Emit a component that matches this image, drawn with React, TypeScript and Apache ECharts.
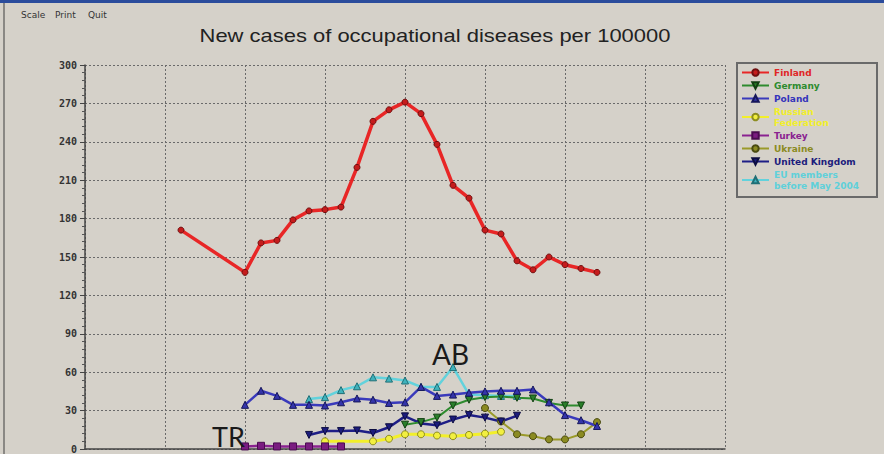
import React, { useEffect, useRef } from "react";
import * as echarts from "echarts";

const finlandYears = [1986, 1990, 1991, 1992, 1993, 1994, 1995, 1996, 1997, 1998, 1999, 2000, 2001, 2002, 2003, 2004, 2005, 2006, 2007, 2008, 2009, 2010, 2011, 2012];
const finlandValues = [171, 138, 161, 163, 179, 186, 187, 189, 220, 256, 265, 271, 262, 238, 206, 196, 171, 168, 147, 140, 150, 144, 141, 138];

const germanyYears = [2000, 2001, 2002, 2003, 2004, 2005, 2006, 2007, 2008, 2009, 2010, 2011];
const germanyValues = [19, 21, 24.5, 34, 38.5, 40.5, 41, 40, 39.5, 36, 34, 34];

const polandYears = [1990, 1991, 1992, 1993, 1994, 1995, 1996, 1997, 1998, 1999, 2000, 2001, 2002, 2003, 2004, 2005, 2006, 2007, 2008, 2009, 2010, 2011, 2012];
const polandValues = [34.5, 45.5, 41.5, 34.5, 34.5, 34, 36.5, 39.5, 38.5, 36, 36.5, 48.5, 41.5, 42.5, 44, 45, 45.5, 45.5, 46.5, 36.5, 26.5, 22.5, 18];

const russiaYears = [1995, 1998, 1999, 2000, 2001, 2002, 2003, 2004, 2005, 2006];
const russiaValues = [6, 6, 8, 11.5, 11.5, 10.5, 10, 11, 12, 13.5];

const turkeyYears = [1990, 1991, 1992, 1993, 1994, 1995, 1996];
const turkeyValues = [2, 2.5, 2, 2, 2, 2, 2];

const ukraineYears = [2005, 2006, 2007, 2008, 2009, 2010, 2011, 2012];
const ukraineValues = [32, 21.5, 11.5, 10, 7.5, 7.5, 11.5, 21];

const ukYears = [1994, 1995, 1996, 1997, 1998, 1999, 2000, 2001, 2002, 2003, 2004, 2005, 2006, 2007];
const ukValues = [11, 14, 14, 14.5, 12.5, 17, 25.5, 20, 18.5, 23, 26.5, 24.5, 21.5, 26];

const euYears = [1994, 1995, 1996, 1997, 1998, 1999, 2000, 2001, 2002, 2003, 2004, 2005, 2006, 2007];
const euValues = [39, 40.5, 46, 49, 56, 55, 53.5, 48.5, 48.5, 64, 42.5, 42, 41.5, 41.5];

const legendNames = ["Finland", "Germany", "Poland", "Russian\nFederation", "Turkey", "Ukraine", "United Kingdom", "EU members\nbefore May 2004"];
const legendColors = ["#e02626", "#2e8b2e", "#3434bb", "#f2ef2a", "#8a2290", "#8b8b22", "#1c1c7c", "#5fd0da"];

const titleText = "New cases of occupational diseases per 100000";
const menuItems = ["Scale", "Print", "Quit"];

const pairs = (xs: number[], ys: number[]) => xs.map((x, i) => [x, ys[i]]);

export default function App() {
  const ref = useRef<HTMLDivElement>(null);
  useEffect(() => {
    document.body.style.margin = "0";
    document.body.style.background = "#d5d1c9";
    const chart = echarts.init(ref.current!, undefined, { renderer: "svg" });

    const mkLine = (
      name: string,
      data: number[][],
      color: string,
      symbol: string,
      fill: string,
      border: string,
      width: number,
      rotate = 0,
      size = 7
    ) => ({
      type: "line",
      name,
      data,
      symbol,
      symbolSize: size,
      symbolRotate: rotate,
      lineStyle: { color, width },
      itemStyle: { color: fill, borderColor: border, borderWidth: 1 },
      emphasis: { disabled: true },
      z: 3,
    });

    const series = [
      mkLine(legendNames[7], pairs(euYears, euValues), "#62d2dc", "triangle", "#3fb2bc", "#1f6f76", 2.5),
      mkLine(legendNames[3], pairs(russiaYears, russiaValues), "#f2ef2a", "circle", "#f2ef40", "#8d8d20", 3),
      mkLine(legendNames[5], pairs(ukraineYears, ukraineValues), "#9a9a2a", "circle", "#8b8b22", "#4a4a10", 2),
      mkLine(legendNames[4], pairs(turkeyYears, turkeyValues), "#8a2290", "rect", "#7a1c80", "#4a0c50", 2.5),
      mkLine(legendNames[6], pairs(ukYears, ukValues), "#1e1e86", "triangle", "#1c1c7c", "#0c0c40", 2.5, 180),
      mkLine(legendNames[1], pairs(germanyYears, germanyValues), "#2e8b2e", "triangle", "#2a7f2a", "#124012", 2, 180),
      mkLine(legendNames[2], pairs(polandYears, polandValues), "#3a3abb", "triangle", "#3434aa", "#16165a", 2.5),
      mkLine(legendNames[0], pairs(finlandYears, finlandValues), "#e82626", "circle", "#c41c1c", "#701010", 3.5, 0, 6),
    ];

    const graphic: any[] = [
      { type: "rect", shape: { x: 0, y: 0, width: 884, height: 3 }, style: { fill: "#2b4c9c" }, z: 10 },
      { type: "rect", shape: { x: 3, y: 3, width: 2, height: 451 }, style: { fill: "#8a8884" }, z: 10 },
      ...menuItems.map((t, i) => ({
        type: "text",
        x: [21, 55, 88][i],
        y: 15,
        style: { text: t, font: '9px "DejaVu Sans"', fill: "#333", verticalAlign: "middle", textVerticalAlign: "middle" },
        z: 10,
      })),
      {
        type: "text",
        x: 435,
        y: 36,
        scaleX: 1.22,
        style: {
          text: titleText,
          font: '18px "Liberation Sans"',
          fill: "#222",
          align: "center",
          textAlign: "center",
          verticalAlign: "middle",
          textVerticalAlign: "middle",
        },
        z: 10,
      },
      { type: "rect", shape: { x: 737, y: 63, width: 140, height: 134 }, style: { fill: "none", stroke: "#6a6a6a", lineWidth: 2 }, z: 10 },
      {
        type: "text",
        x: 432,
        y: 354,
        style: { text: "AB", font: "28px Lato", fill: "#1a1a1a", verticalAlign: "middle", textVerticalAlign: "middle" },
        z: 20,
      },
      {
        type: "text",
        x: 212,
        y: 450,
        style: { text: "TR", font: "27px Lato", lineHeight: 27, fill: "#1a1a1a", verticalAlign: "bottom", textVerticalAlign: "bottom" },
        z: 20,
      },
    ];

    chart.setOption({
      animation: false,
      backgroundColor: "#d5d1c9",
      grid: { left: 85, right: 159, top: 65, bottom: 1 },
      xAxis: {
        type: "value",
        min: 1980,
        max: 2020,
        interval: 5,
        axisLabel: { show: false },
        axisTick: { show: false },
        axisLine: { show: true, lineStyle: { color: "#444", width: 1.5 } },
        splitLine: { show: true, lineStyle: { color: "#6a6a6a", type: [2, 2], width: 1 } },
      },
      yAxis: {
        type: "value",
        min: 0,
        max: 300,
        interval: 30,
        axisLine: { show: true, lineStyle: { color: "#444", width: 1.5 } },
        axisTick: { show: true, length: 5, lineStyle: { color: "#444" } },
        minorTick: { show: true, splitNumber: 5, length: 3, lineStyle: { color: "#555" } },
        axisLabel: { fontFamily: "DejaVu Sans Mono", fontWeight: "bold", fontSize: 10, color: "#333", margin: 8 },
        splitLine: { show: true, lineStyle: { color: "#6a6a6a", type: [2, 2], width: 1 } },
      },
      legend: {
        orient: "vertical",
        left: 741,
        top: 67,
        itemWidth: 27,
        itemHeight: 8,
        itemGap: 2,
        padding: 0,
        selectedMode: false,
        textStyle: { fontFamily: "DejaVu Sans", fontWeight: "bold", fontSize: 9, lineHeight: 11 },
        data: legendNames.map((n, i) => ({ name: n, textStyle: { color: legendColors[i] } })),
      },
      graphic,
      series,
    });
    return () => chart.dispose();
  }, []);
  return <div ref={ref} style={{ position: "fixed", left: 0, top: 0, width: 884, height: 454 }} />;
}
